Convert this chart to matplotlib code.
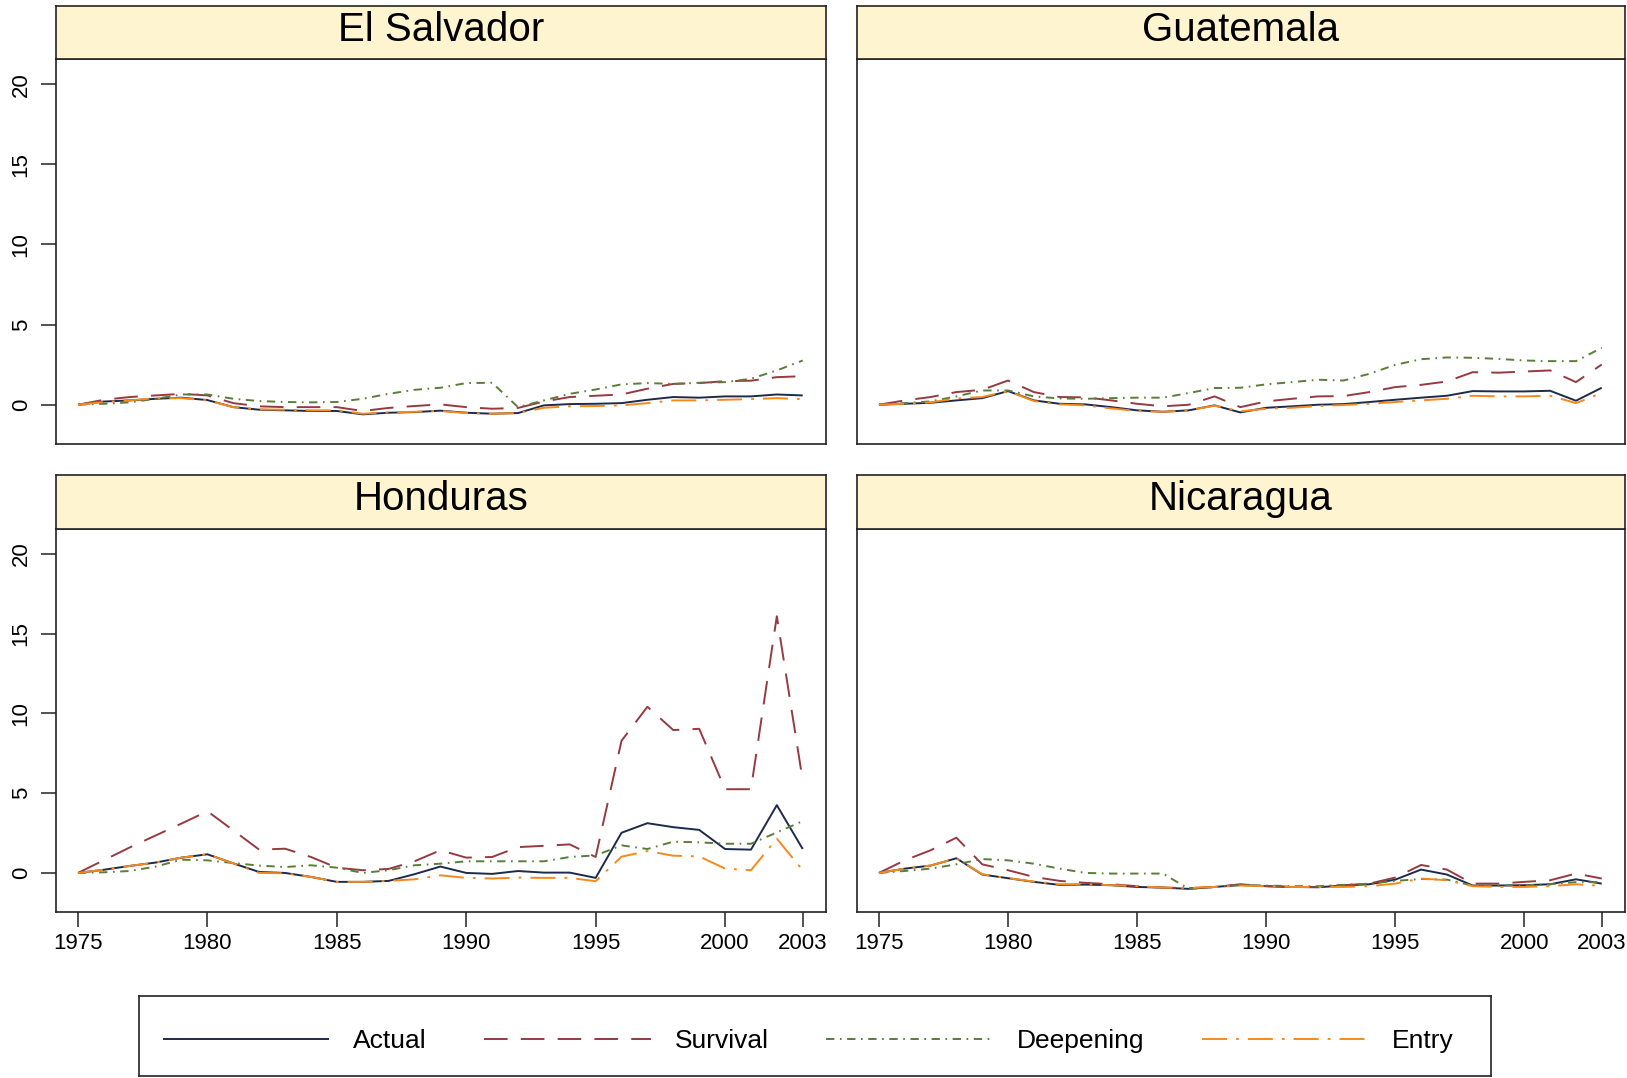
import numpy as np
import matplotlib
matplotlib.use("Agg")
import matplotlib.pyplot as plt
from matplotlib.lines import Line2D

plt.rcParams['font.family'] = ['Liberation Sans', 'DejaVu Sans']
plt.rcParams['lines.scale_dashes'] = False

# data
years = list(range(1975, 2004))
countries = ["El Salvador", "Guatemala", "Honduras", "Nicaragua"]
series_names = ["Actual", "Survival", "Deepening", "Entry"]

salv_actual = [0, 0.2, 0.27, 0.37, 0.44, 0.29, -0.15, -0.31, -0.35, -0.39, -0.39, -0.6, -0.5, -0.46, -0.37,
               -0.5, -0.56, -0.52, -0.04, 0.04, 0.06, 0.1, 0.31, 0.48, 0.44, 0.52, 0.52, 0.64, 0.58]
salv_survival = [0, 0.31, 0.48, 0.58, 0.68, 0.58, 0.1, -0.1, -0.15, -0.15, -0.15, -0.39, -0.2, -0.08, 0.02,
                 -0.15, -0.25, -0.2, 0.2, 0.48, 0.56, 0.64, 1.0, 1.3, 1.35, 1.47, 1.5, 1.72, 1.78]
salv_deepening = [0, 0.06, 0.15, 0.37, 0.64, 0.64, 0.37, 0.23, 0.17, 0.15, 0.17, 0.37, 0.68, 0.93, 1.06,
                  1.35, 1.37, -0.15, 0.27, 0.68, 0.95, 1.27, 1.35, 1.3, 1.37, 1.41, 1.62, 2.14, 2.76]
salv_entry = [0, 0.17, 0.27, 0.41, 0.41, 0.27, -0.15, -0.29, -0.31, -0.35, -0.35, -0.56, -0.48, -0.44, -0.39,
              -0.52, -0.56, -0.52, -0.19, -0.1, -0.08, -0.04, 0.1, 0.27, 0.27, 0.31, 0.35, 0.41, 0.35]

guat_actual = [0, 0.06, 0.12, 0.27, 0.41, 0.85, 0.27, 0.06, 0.02, -0.15, -0.35, -0.44, -0.35, -0.04, -0.48,
               -0.19, -0.1, 0, 0.04, 0.17, 0.31, 0.44, 0.56, 0.85, 0.83, 0.83, 0.87, 0.25, 1.06]
guat_survival = [0, 0.27, 0.48, 0.79, 0.93, 1.51, 0.79, 0.48, 0.46, 0.27, 0.06, -0.1, 0, 0.52, -0.15,
                 0.21, 0.37, 0.52, 0.54, 0.79, 1.1, 1.24, 1.45, 2.03, 2.0, 2.07, 2.14, 1.41, 2.51]
guat_deepening = [0, 0.1, 0.21, 0.52, 0.89, 0.89, 0.52, 0.39, 0.37, 0.41, 0.44, 0.44, 0.73, 1.04, 1.06,
                  1.27, 1.41, 1.56, 1.51, 1.93, 2.49, 2.84, 2.95, 2.93, 2.86, 2.76, 2.72, 2.72, 3.55]
guat_entry = [0, 0.06, 0.15, 0.39, 0.48, 0.85, 0.23, 0.02, -0.04, -0.23, -0.39, -0.44, -0.35, -0.06, -0.41,
              -0.25, -0.19, -0.08, -0.02, 0.06, 0.17, 0.27, 0.37, 0.56, 0.52, 0.52, 0.56, 0.1, 0.73]

hond_actual = [0, 0.2, 0.44, 0.65, 0.96, 1.17, 0.6, 0.06, 0, -0.25, -0.56, -0.56, -0.5, -0.08, 0.4,
               0, -0.06, 0.12, 0.02, 0.02, -0.31, 2.52, 3.12, 2.87, 2.7, 1.5, 1.46, 4.25, 1.5]
hond_survival = [0, 0.8, 1.6, 2.35, 3.1, 3.87, 2.67, 1.46, 1.52, 1.0, 0.33, 0.17, 0.25, 0.73, 1.42,
                 0.96, 1.0, 1.62, 1.7, 1.79, 1.0, 8.29, 10.42, 8.96, 9.04, 5.25, 5.25, 16.1, 5.8]
hond_deepening = [0, 0.04, 0.12, 0.4, 0.83, 0.79, 0.62, 0.46, 0.37, 0.48, 0.33, 0, 0.17, 0.48, 0.58,
                  0.73, 0.73, 0.73, 0.73, 1.0, 1.1, 1.73, 1.5, 1.96, 1.92, 1.83, 1.83, 2.54, 3.25]
hond_entry = [0, 0.2, 0.44, 0.65, 0.96, 1.17, 0.6, 0.0, -0.02, -0.25, -0.56, -0.56, -0.5, -0.4, -0.15,
              -0.31, -0.35, -0.29, -0.31, -0.31, -0.52, 1.02, 1.37, 1.08, 1.04, 0.27, 0.17, 2.15, 0.17]

nica_actual = [0, 0.27, 0.46, 0.92, -0.1, -0.33, -0.56, -0.75, -0.73, -0.77, -0.88, -0.92, -1.0, -0.88, -0.75,
               -0.83, -0.88, -0.9, -0.79, -0.71, -0.42, 0.21, -0.1, -0.79, -0.79, -0.77, -0.71, -0.4, -0.67]
nica_survival = [0, 0.79, 1.42, 2.21, 0.54, 0.17, -0.25, -0.5, -0.62, -0.71, -0.83, -0.92, -0.96, -0.88, -0.71,
                 -0.83, -0.88, -0.88, -0.77, -0.67, -0.29, 0.5, 0.21, -0.67, -0.67, -0.56, -0.46, -0.04, -0.35]
nica_deepening = [0, 0.12, 0.27, 0.54, 0.87, 0.79, 0.58, 0.27, 0, -0.04, -0.04, -0.04, -1.0, -0.88, -0.77,
                  -0.79, -0.83, -0.83, -0.75, -0.67, -0.5, -0.38, -0.42, -0.79, -0.79, -0.77, -0.71, -0.58, -0.58]
nica_entry = [0, 0.27, 0.46, 0.92, -0.08, -0.33, -0.54, -0.71, -0.71, -0.77, -0.83, -0.92, -0.94, -0.88, -0.79,
              -0.83, -0.88, -0.88, -0.88, -0.83, -0.67, -0.35, -0.46, -0.83, -0.88, -0.88, -0.83, -0.71, -0.81]

panel_data = [
    [salv_actual, salv_survival, salv_deepening, salv_entry],
    [guat_actual, guat_survival, guat_deepening, guat_entry],
    [hond_actual, hond_survival, hond_deepening, hond_entry],
    [nica_actual, nica_survival, nica_deepening, nica_entry],
]

xticks = [1975, 1980, 1985, 1990, 1995, 2000, 2003]
yticks = [0, 5, 10, 15, 20]

# styles
colors = ['#1c2b4c', '#963a40', '#5a7d3a', '#f7891c']
dashes = [(0, ()), (0, (17, 9.5)), (0, (6, 4, 1.2, 4)), (0, (18, 6.5, 2, 6.5))]
lw = 1.4
strip_col = '#fff4d0'

fig = plt.figure(figsize=(16.27, 10.78), dpi=100)

W, H = 1627.0, 1078.0
lefts = [56, 857, 56, 857]
widths = [770, 768, 770, 768]
plot_top = [59, 59, 529, 529]
plot_bot = [444, 444, 912, 912]
strip_top = [6, 6, 475, 475]

for i, name in enumerate(countries):
    l = lefts[i] / W
    w = widths[i] / W
    ax = fig.add_axes([l, 1 - plot_bot[i] / H, w, (plot_bot[i] - plot_top[i]) / H])
    for j in range(4):
        ax.plot(years, panel_data[i][j], color=colors[j], lw=lw, linestyle=dashes[j])
    ax.set_xlim(1974.15, 2003.9)
    ax.set_ylim(-2.45, 21.57)
    ax.set_xticks(xticks)
    ax.set_yticks(yticks)
    ax.tick_params(direction='out', length=11, width=1.2, labelsize=16, color='#333333')
    ax.tick_params(axis='x', pad=4)
    ax.tick_params(axis='y', pad=6.5)
    if i in (0, 2):
        ax.set_yticklabels([str(t) for t in yticks], rotation=90, va='center')
    else:
        ax.tick_params(axis='y', left=False, labelleft=False)
    if i in (2, 3):
        ax.set_xticklabels([str(t) for t in xticks])
    else:
        ax.tick_params(axis='x', bottom=False, labelbottom=False)
    for sp in ax.spines.values():
        sp.set_linewidth(1.2)
        sp.set_color('#222222')

    # strip header
    sax = fig.add_axes([l, 1 - plot_top[i] / H, w, (plot_top[i] - strip_top[i]) / H])
    sax.set_facecolor(strip_col)
    sax.set_xticks([])
    sax.set_yticks([])
    for sp in sax.spines.values():
        sp.set_linewidth(1.2)
        sp.set_color('#222222')
    sax.text(0.5, 0.55, name, ha='center', va='center', fontsize=29, transform=sax.transAxes)

# legend box
lax = fig.add_axes([139 / W, 1 - 1076 / H, (1491 - 139) / W, 80 / H])
lax.set_xticks([])
lax.set_yticks([])
for sp in lax.spines.values():
    sp.set_linewidth(1.2)
    sp.set_color('#222222')
handles = [Line2D([], [], color=colors[j], lw=lw, linestyle=dashes[j]) for j in range(4)]
lax.legend(handles, series_names, ncol=4, loc='center', frameon=False, fontsize=19,
           handlelength=6.3, handletextpad=0.9, columnspacing=2.2,
           bbox_to_anchor=(0.0, -0.06, 0.99, 1.0), mode='expand')

fig.savefig('out.png', dpi=100)
